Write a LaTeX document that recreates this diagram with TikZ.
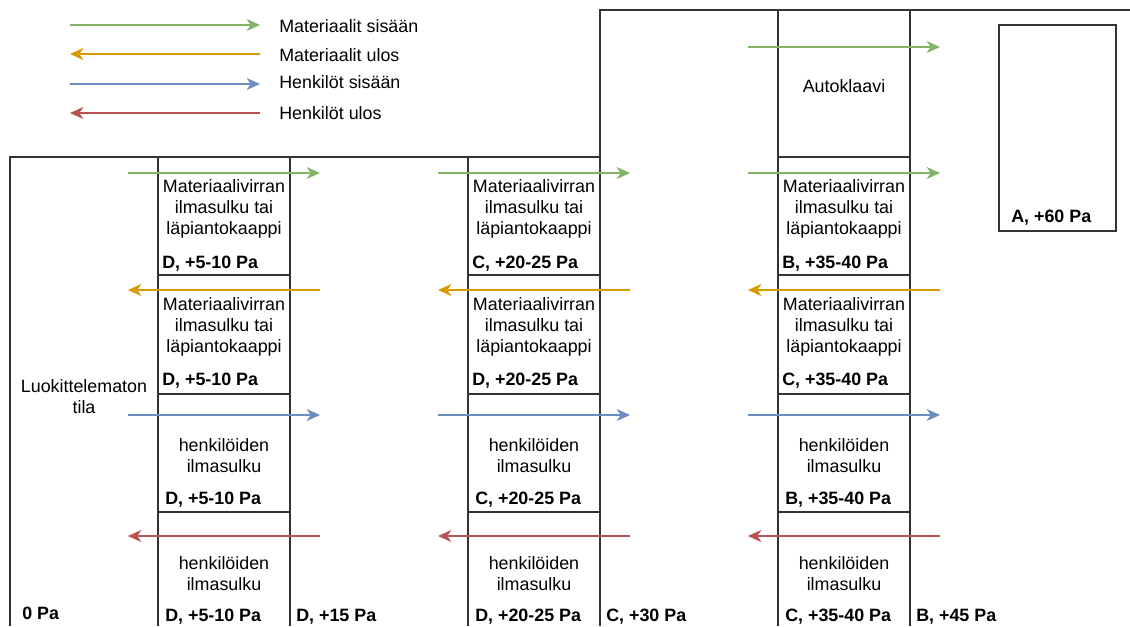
\documentclass[tikz,border=0pt]{standalone}
\usepackage{fontspec}
\setmainfont{Liberation Sans}
\usetikzlibrary{arrows.meta}

\definecolor{matin}{HTML}{82B366}
\definecolor{matout}{HTML}{D79B00}
\definecolor{perin}{HTML}{6C8EBF}
\definecolor{perout}{HTML}{B85450}
\definecolor{wallgray}{HTML}{333333}

\tikzset{
  wall/.style={draw=wallgray, line width=1.1pt},
  flow/.style={line width=1.1pt, -{Stealth[length=10pt,width=9pt,inset=3pt]}},
  roomtxt/.style={align=center, inner sep=0pt, yshift=-1.5pt, font=\fontsize{13.4}{15.8}\selectfont},
  prs/.style={anchor=west, inner sep=0pt, yshift=-1.5pt, font=\fontsize{13.4}{15.8}\selectfont\bfseries},
  legtxt/.style={anchor=west, inner sep=0pt, yshift=-1pt, font=\fontsize{13.4}{15.8}\selectfont},
}

\begin{document}
\begin{tikzpicture}[x=0.75pt,y=-0.75pt]
  \useasboundingbox (0,0) rectangle (1130,626);

  % walls
  \draw[wall] (10,626) -- (10,157) -- (600,157);
  \draw[wall] (600,626) -- (600,10) -- (1130,10);
  \draw[wall] (778,626) -- (778,10);
  \draw[wall] (910,626) -- (910,10);
  \draw[wall] (778,157) -- (910,157);
  \foreach \x in {158,468} {
    \draw[wall] (\x,157) -- (\x,626);
    \draw[wall] (\x+132,157) -- (\x+132,626);
  }
  \foreach \x in {158,468,778}
    \foreach \y in {275,394,512}
      \draw[wall] (\x,\y) -- (\x+132,\y);
  \draw[wall] (999,25) rectangle (1116,231);

  % legend
  \coordinate (lg1a) at (70,25);  \coordinate (lg1b) at (260,25);
  \coordinate (lg2a) at (70,54);  \coordinate (lg2b) at (260,54);
  \coordinate (lg3a) at (70,84);  \coordinate (lg3b) at (260,84);
  \coordinate (lg4a) at (70,113); \coordinate (lg4b) at (260,113);
  \draw[flow, matin] (lg1a) -- (lg1b);
  \draw[flow, matout] (lg2b) -- (lg2a);
  \draw[flow, perin] (lg3a) -- (lg3b);
  \draw[flow, perout] (lg4b) -- (lg4a);
  \node[legtxt] (leg1) at (279,25) {Materiaalit sisään};
  \node[legtxt] (leg2) at (279,54) {Materiaalit ulos};
  \node[legtxt] (leg3) at (279,81) {Henkilöt sisään};
  \node[legtxt] (leg4) at (279,112) {Henkilöt ulos};

  % air locks
  \foreach \c/\x/\la/\lb/\lc/\ld in {1/158/{D, +5-10 Pa}/{D, +5-10 Pa}/{D, +5-10 Pa}/{D, +5-10 Pa},
      2/468/{C, +20-25 Pa}/{D, +20-25 Pa}/{C, +20-25 Pa}/{D, +20-25 Pa},
      3/778/{B, +35-40 Pa}/{C, +35-40 Pa}/{B, +35-40 Pa}/{C, +35-40 Pa}} {
    \node[roomtxt] (mi\c) at (\x+66,207) {Materiaalivirran\\ilmasulku tai\\läpiantokaappi};
    \node[roomtxt] (mo\c) at (\x+66,325) {Materiaalivirran\\ilmasulku tai\\läpiantokaappi};
    \node[roomtxt] (hi\c) at (\x+66,454) {henkilöiden\\ilmasulku};
    \node[roomtxt] (ho\c) at (\x+66,572) {henkilöiden\\ilmasulku};
    \node[prs] (pmi\c) at (\x+4,262) {\la};
    \node[prs] (pmo\c) at (\x+4,379) {\lb};
    \node[prs] (phi\c) at (\x+7,498) {\lc};
    \node[prs] (pho\c) at (\x+7,615) {\ld};
    \coordinate (gs\c) at (\x-30,173); \coordinate (ge\c) at (\x+162,173);
    \coordinate (os\c) at (\x+162,290); \coordinate (oe\c) at (\x-30,290);
    \coordinate (bs\c) at (\x-30,415); \coordinate (be\c) at (\x+162,415);
    \coordinate (rs\c) at (\x+162,536); \coordinate (re\c) at (\x-30,536);
    \draw[flow, matin] (gs\c) -- (ge\c);
    \draw[flow, matout] (os\c) -- (oe\c);
    \draw[flow, perin] (bs\c) -- (be\c);
    \draw[flow, perout] (rs\c) -- (re\c);
  }

  % autoclave
  \node[roomtxt] (auto) at (844,84) {Autoklaavi};
  \coordinate (ags) at (748,47); \coordinate (age) at (940,47);
  \draw[flow, matin] (ags) -- (age);

  % rooms
  \node[roomtxt] (luok) at (84,395) {Luokittelematon\\tila};
  \node[prs] (p0) at (22,611) {0 Pa};
  \node[prs] (pD) at (296,615) {D, +15 Pa};
  \node[prs] (pC) at (606,615) {C, +30 Pa};
  \node[prs] (pB) at (916,615) {B, +45 Pa};
  \node[prs] (pA) at (1011,216) {A, +60 Pa};
\end{tikzpicture}
\end{document}
